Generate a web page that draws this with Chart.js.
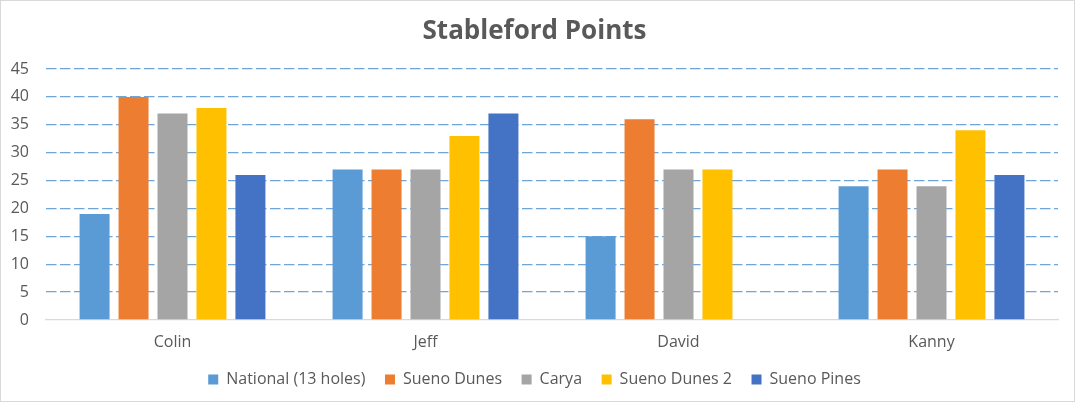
<!DOCTYPE html>
<html>
<head>
<meta charset="utf-8">
<script src="https://cdn.jsdelivr.net/npm/chart.js@4"></script>
<style>
  html, body { margin: 0; padding: 0; background: #fff; }
  #wrap { width: 1073px; height: 400px; border: 1px solid #d9d9d9; position: relative; }
</style>
</head>
<body>
<div id="wrap"><canvas id="chart"></canvas></div>
<script>
// golfers and rounds
var players = ['Colin', 'Jeff', 'David', 'Kanny']
var national = [19, 27, 15, 24]
var suenoDunes = [40, 27, 36, 27]
var carya = [37, 27, 27, 24]
var suenoDunes2 = [38, 33, 27, 34]
var suenoPines = [26, 37, null, 26]   // David didn't play it

var grey = '#595959'
Chart.defaults.font.family = "'Open Sans', sans-serif"
Chart.defaults.color = grey

function ds(label, data, color){
    return {
        label: label,
        data: data,
        backgroundColor: color,
        borderColor: color,
        borderWidth: 0,
        categoryPercentage: 0.77,
        barPercentage: 0.77
    }
}

var ctx = document.getElementById('chart').getContext('2d')
var chart = new Chart(ctx, {
    type: 'bar',
    data: {
        labels: players,
        datasets: [
            ds('National (13 holes)', national, '#5b9bd5'),
            ds('Sueno Dunes', suenoDunes, '#ed7d31'),
            ds('Carya', carya, '#a5a5a5'),
            ds('Sueno Dunes 2', suenoDunes2, '#ffc000'),
            ds('Sueno Pines', suenoPines, '#4472c4')
        ]
    },
    options: {
        responsive: true,
        maintainAspectRatio: false,
        animation: false,
        layout: { padding: { left: 10, right: 16, top: 8, bottom: 3.4 } },
        plugins: {
            title: {
                display: true,
                text: 'Stableford Points',
                color: grey,
                font: { size: 26, weight: 'bold' },
                padding: { top: 7.4, bottom: 21.4 }
            },
            legend: {
                position: 'bottom',
                labels: {
                    boxWidth: 10,
                    boxHeight: 10,
                    padding: 19.6,
                    color: grey,
                    font: { size: 16 }
                }
            },
            tooltip: { enabled: false }
        },
        scales: {
            x: {
                grid: { display: false, tickLength: 12 },
                border: { color: '#d9d9d9', width: 1.3 },
                ticks: { font: { size: 16 }, color: grey, padding: 0.4 }
            },
            y: {
                min: 0,
                max: 45,
                ticks: { stepSize: 5, font: { size: 16 }, color: grey, padding: 17 },
                border: { display: false, dash: [10.5, 3.5] },
                grid: {
                    // zero line is left to the solid x axis border
                    color: function(c){ return c.tick.value === 0 ? 'rgba(0,0,0,0)' : '#6fa6da' },
                    lineWidth: 1.3,
                    drawTicks: false
                },
                afterFit: function(scale){ scale.width = 35 }
            }
        }
    }
})
</script>
</body>
</html>
